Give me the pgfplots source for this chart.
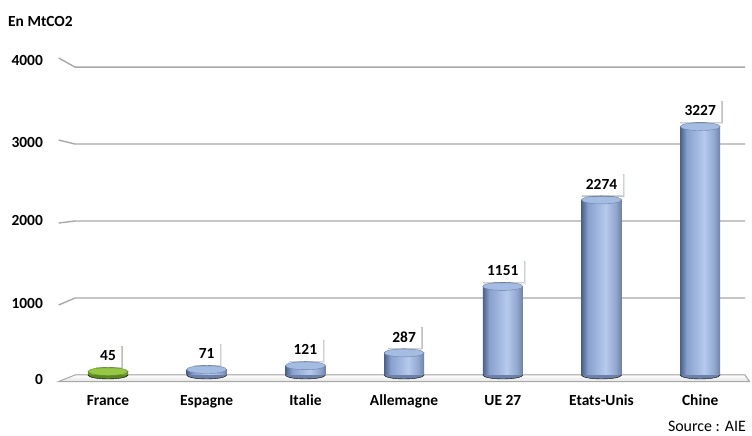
\documentclass[border=0pt]{standalone}
\usepackage{pgfplots}
\pgfplotsset{compat=1.18}
\usepackage{fontspec}
\setmainfont{Carlito}
\usetikzlibrary{shadows}
\definecolor{bdark}{RGB}{78,96,134}
\definecolor{bmid}{RGB}{135,160,205}
\definecolor{blight}{RGB}{182,202,238}
\definecolor{bright}{RGB}{145,166,205}
\definecolor{bedge}{RGB}{108,128,168}
\definecolor{btop}{RGB}{165,188,226}
\definecolor{gdark}{RGB}{90,135,35}
\definecolor{gmid}{RGB}{135,185,60}
\definecolor{glight}{RGB}{175,220,95}
\definecolor{gtop}{RGB}{150,200,70}
\definecolor{gridc}{RGB}{168,168,168}
\pgfdeclarehorizontalshading{blueshade}{100bp}{color(0bp)=(bdark); color(25bp)=(bdark); color(33bp)=(bmid); color(55bp)=(blight); color(68bp)=(bright); color(75bp)=(bedge); color(100bp)=(bedge)}
\pgfdeclarehorizontalshading{greenshade}{100bp}{color(0bp)=(gdark); color(25bp)=(gdark); color(33bp)=(gmid); color(55bp)=(glight); color(68bp)=(gmid); color(75bp)=(gdark); color(100bp)=(gdark)}
\pgfdeclareplotmark{cyltop}{\pgfpathellipse{\pgfpointorigin}{\pgfqpoint{20bp}{0bp}}{\pgfqpoint{0bp}{4bp}}\pgfusepathqfillstroke}
\newcommand{\lblfont}{\bfseries\fontsize{15.5}{18}\selectfont}
\pgfplotsset{
  cylbar/.style={ybar, bar width=40bp, bar shift=0pt, draw=none, shading=blueshade},
  valbox/.style={nodes near coords,
    every node near coord/.append style={anchor=south, yshift=4.5bp, fill=white, inner xsep=5.5bp, inner ysep=6bp, font=\lblfont, text=black,
    drop shadow={shadow xshift=1.3bp, shadow yshift=-1.3bp, fill=black, opacity=0.18}}},
}
\begin{document}
\begin{tikzpicture}
\useasboundingbox (0,0) rectangle (752bp,436bp);
\begin{axis}[
  at={(58.65bp,50bp)}, anchor=south west,
  x=98.7bp, y=0.077bp,
  xmin=-0.5, xmax=6.5, ymin=-143, ymax=4200,
  axis line style={draw=none},
  major tick length=0pt,
  xtick={0,...,6},
  xticklabels={France,Espagne,Italie,Allemagne,UE 27,Etats-Unis,Chine},
  ytick={0,1000,2000,3000,4000},
  yticklabels={\raisebox{-5bp}{0},\raisebox{-5bp}{1000},\raisebox{1bp}{2000},\raisebox{2bp}{3000},\raisebox{7bp}{4000}},
  xticklabel style={anchor=base, yshift=-19bp},
  yticklabel style={anchor=base east, inner sep=0pt, xshift=-15.6bp, yshift=-5bp},
  tick label style={font=\lblfont},
  clip=false,
  clip marker paths=true,
  /pgf/number format/assume math mode=true,
  /pgf/number format/1000 sep={},
]
% grid lines with perspective slant
\draw[gridc, line width=1.4bp] (axis cs:-0.5,4117) -- (axis cs:-0.334,4000) -- (axis cs:6.454,4000);
\draw[gridc, line width=1.4bp] (axis cs:-0.5,3052) -- (axis cs:-0.334,3000) -- (axis cs:6.454,3000);
\draw[gridc, line width=1.4bp] (axis cs:-0.5,1974) -- (axis cs:-0.334,2000) -- (axis cs:6.454,2000);
\draw[gridc, line width=1.4bp] (axis cs:-0.5,909) -- (axis cs:-0.334,1000) -- (axis cs:6.454,1000);
% floor
\filldraw[top color=white, bottom color=gray!22, draw=gridc, line width=1bp]
  (axis cs:-0.5,-85) -- (axis cs:-0.334,0) -- (axis cs:6.454,0) -- (axis cs:6.5,-85) -- cycle;
% cylinder bottoms
\addplot[only marks, mark=cyltop, mark options={fill=bedge, draw=none}] coordinates {(1,0) (2,0) (3,0) (4,0) (5,0) (6,0)};
\addplot[only marks, mark=cyltop, mark options={fill=gdark, draw=none}] coordinates {(0,0)};
% bars (one plot per bar so each gets its own shading)
\addplot[cylbar, shading=greenshade] coordinates {(0,45)};
\addplot[cylbar] coordinates {(1,71)};
\addplot[cylbar] coordinates {(2,121)};
\addplot[cylbar] coordinates {(3,287)};
\addplot[cylbar] coordinates {(4,1151)};
\addplot[cylbar] coordinates {(5,2274)};
\addplot[cylbar] coordinates {(6,3227)};
% cylinder tops with value labels
\addplot[only marks, mark=cyltop, mark options={fill=gtop, draw=gdark, line width=0.4bp}, valbox]
  coordinates {(0,45)};
\addplot[only marks, mark=cyltop, mark options={fill=btop, draw=bedge, line width=0.4bp}, valbox]
  coordinates {(1,71) (2,121) (3,287) (4,1151) (5,2274) (6,3227)};
\end{axis}
\node[anchor=base west, font=\lblfont, inner sep=0pt] at (8bp,409bp) {En MtCO2};
\node[anchor=base east, font=\fontsize{16}{19}\selectfont, inner sep=0pt] at (746bp,5bp) {Source : AIE};
\end{tikzpicture}
\end{document}
